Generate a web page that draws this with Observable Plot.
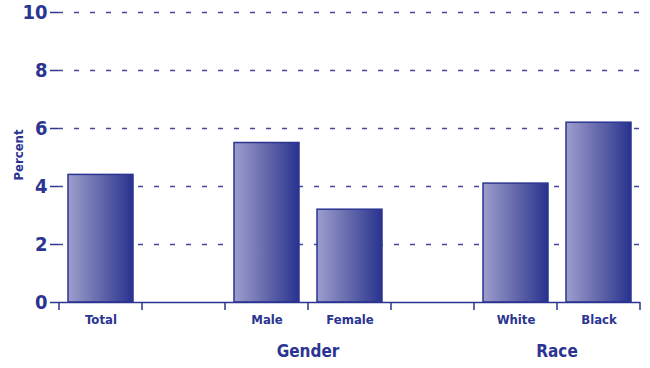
<!DOCTYPE html>
<html>
<head>
<meta charset="utf-8">
<script src="https://cdn.jsdelivr.net/npm/d3@7"></script>
<script src="https://cdn.jsdelivr.net/npm/@observablehq/plot@0.6"></script>
<style>
  html, body { margin: 0; padding: 0; background: #fff; }
  #chart svg { display: block; }
</style>
</head>
<body>
<div id="chart"></div>
<script>
// Data
const slotKeys = ["Total", "gap1", "Male", "Female", "gap2", "White", "Black"];
const slotLabels = ["Total", "", "Male", "Female", "", "White", "Black"];
const barCategories = ["Total", "Male", "Female", "White", "Black"];
const barValues = [4.4, 5.5, 3.2, 4.1, 6.2];
const groupNames = ["Gender", "Race"];
const groupFirst = ["Male", "White"];
const groupLast = ["Female", "Black"];
const yTicks = [0, 2, 4, 6, 8, 10];

const navy = "#2b3591";
const font = "'Liberation Sans Narrow', 'DejaVu Sans Condensed', 'Arial Narrow', sans-serif";

const bars = barCategories.map((c, i) => ({ cat: c, value: barValues[i] }));
const labelOf = new Map(slotKeys.map((k, i) => [k, slotLabels[i]]));

const chart = Plot.plot({
  width: 650,
  height: 368,
  marginLeft: 58,
  marginRight: 10,
  marginTop: 12,
  marginBottom: 66,
  style: { fontFamily: font, color: navy, background: "#fff" },
  x: { domain: slotKeys, paddingInner: 0.22, paddingOuter: 0.11, label: null },
  y: { domain: [0, 10], ticks: yTicks, label: null },
  marks: [
    Plot.gridY(yTicks.filter(d => d > 0), { stroke: navy, strokeOpacity: 0.9, strokeWidth: 1.4, strokeDasharray: "5,11" }),
    Plot.barY(bars, { x: "cat", y: "value", fill: "url(#barGrad)", stroke: navy, strokeWidth: 1.5 }),
    Plot.ruleY([0], { stroke: navy, strokeWidth: 1.5 }),
    Plot.axisY({ ticks: yTicks, tickSize: 8, tickPadding: 3, stroke: navy, strokeWidth: 1.5, fontSize: 20, fontWeight: "bold", fill: navy, label: null }),
    Plot.axisX({ tickSize: 0, tickPadding: 12, tickFormat: k => labelOf.get(k), fontSize: 13, fontWeight: "bold", fill: navy, label: null })
  ]
});

document.getElementById("chart").appendChild(chart);

const svg = d3.select(chart);
// gradient
const defs = svg.insert("defs", ":first-child");
const grad = defs.append("linearGradient").attr("id", "barGrad").attr("x1", 0).attr("x2", 1).attr("y1", 0).attr("y2", 0);
grad.append("stop").attr("offset", "0%").attr("stop-color", "#9d9ecd");
grad.append("stop").attr("offset", "55%").attr("stop-color", "#5e63a8");
grad.append("stop").attr("offset", "100%").attr("stop-color", "#28338f");

const xs = chart.scale("x");
const ys = chart.scale("y");
const step = xs.step;
const half = (step - xs.bandwidth) / 2;
const y0 = ys.apply(0);

// slot boundary ticks on the x axis
const edges = slotKeys.map(k => xs.apply(k) - half).concat([xs.apply(slotKeys[slotKeys.length - 1]) + xs.bandwidth + half]);
svg.append("g").selectAll("line").data(edges).join("line")
  .attr("x1", d => d).attr("x2", d => d)
  .attr("y1", y0).attr("y2", y0 + 8)
  .attr("stroke", navy).attr("stroke-width", 1.5);

// group labels
svg.append("g").selectAll("text").data(groupNames).join("text")
  .attr("x", (d, i) => (xs.apply(groupFirst[i]) - half + xs.apply(groupLast[i]) + xs.bandwidth + half) / 2)
  .attr("y", 357)
  .attr("text-anchor", "middle")
  .attr("font-family", font).attr("font-weight", "bold").attr("font-size", 17)
  .attr("fill", navy)
  .text(d => d);

// y axis title
svg.append("text")
  .attr("transform", "translate(23,155) rotate(-90)")
  .attr("text-anchor", "middle")
  .attr("font-family", font).attr("font-weight", "bold").attr("font-size", 13)
  .attr("fill", navy)
  .text("Percent");
</script>
</body>
</html>
